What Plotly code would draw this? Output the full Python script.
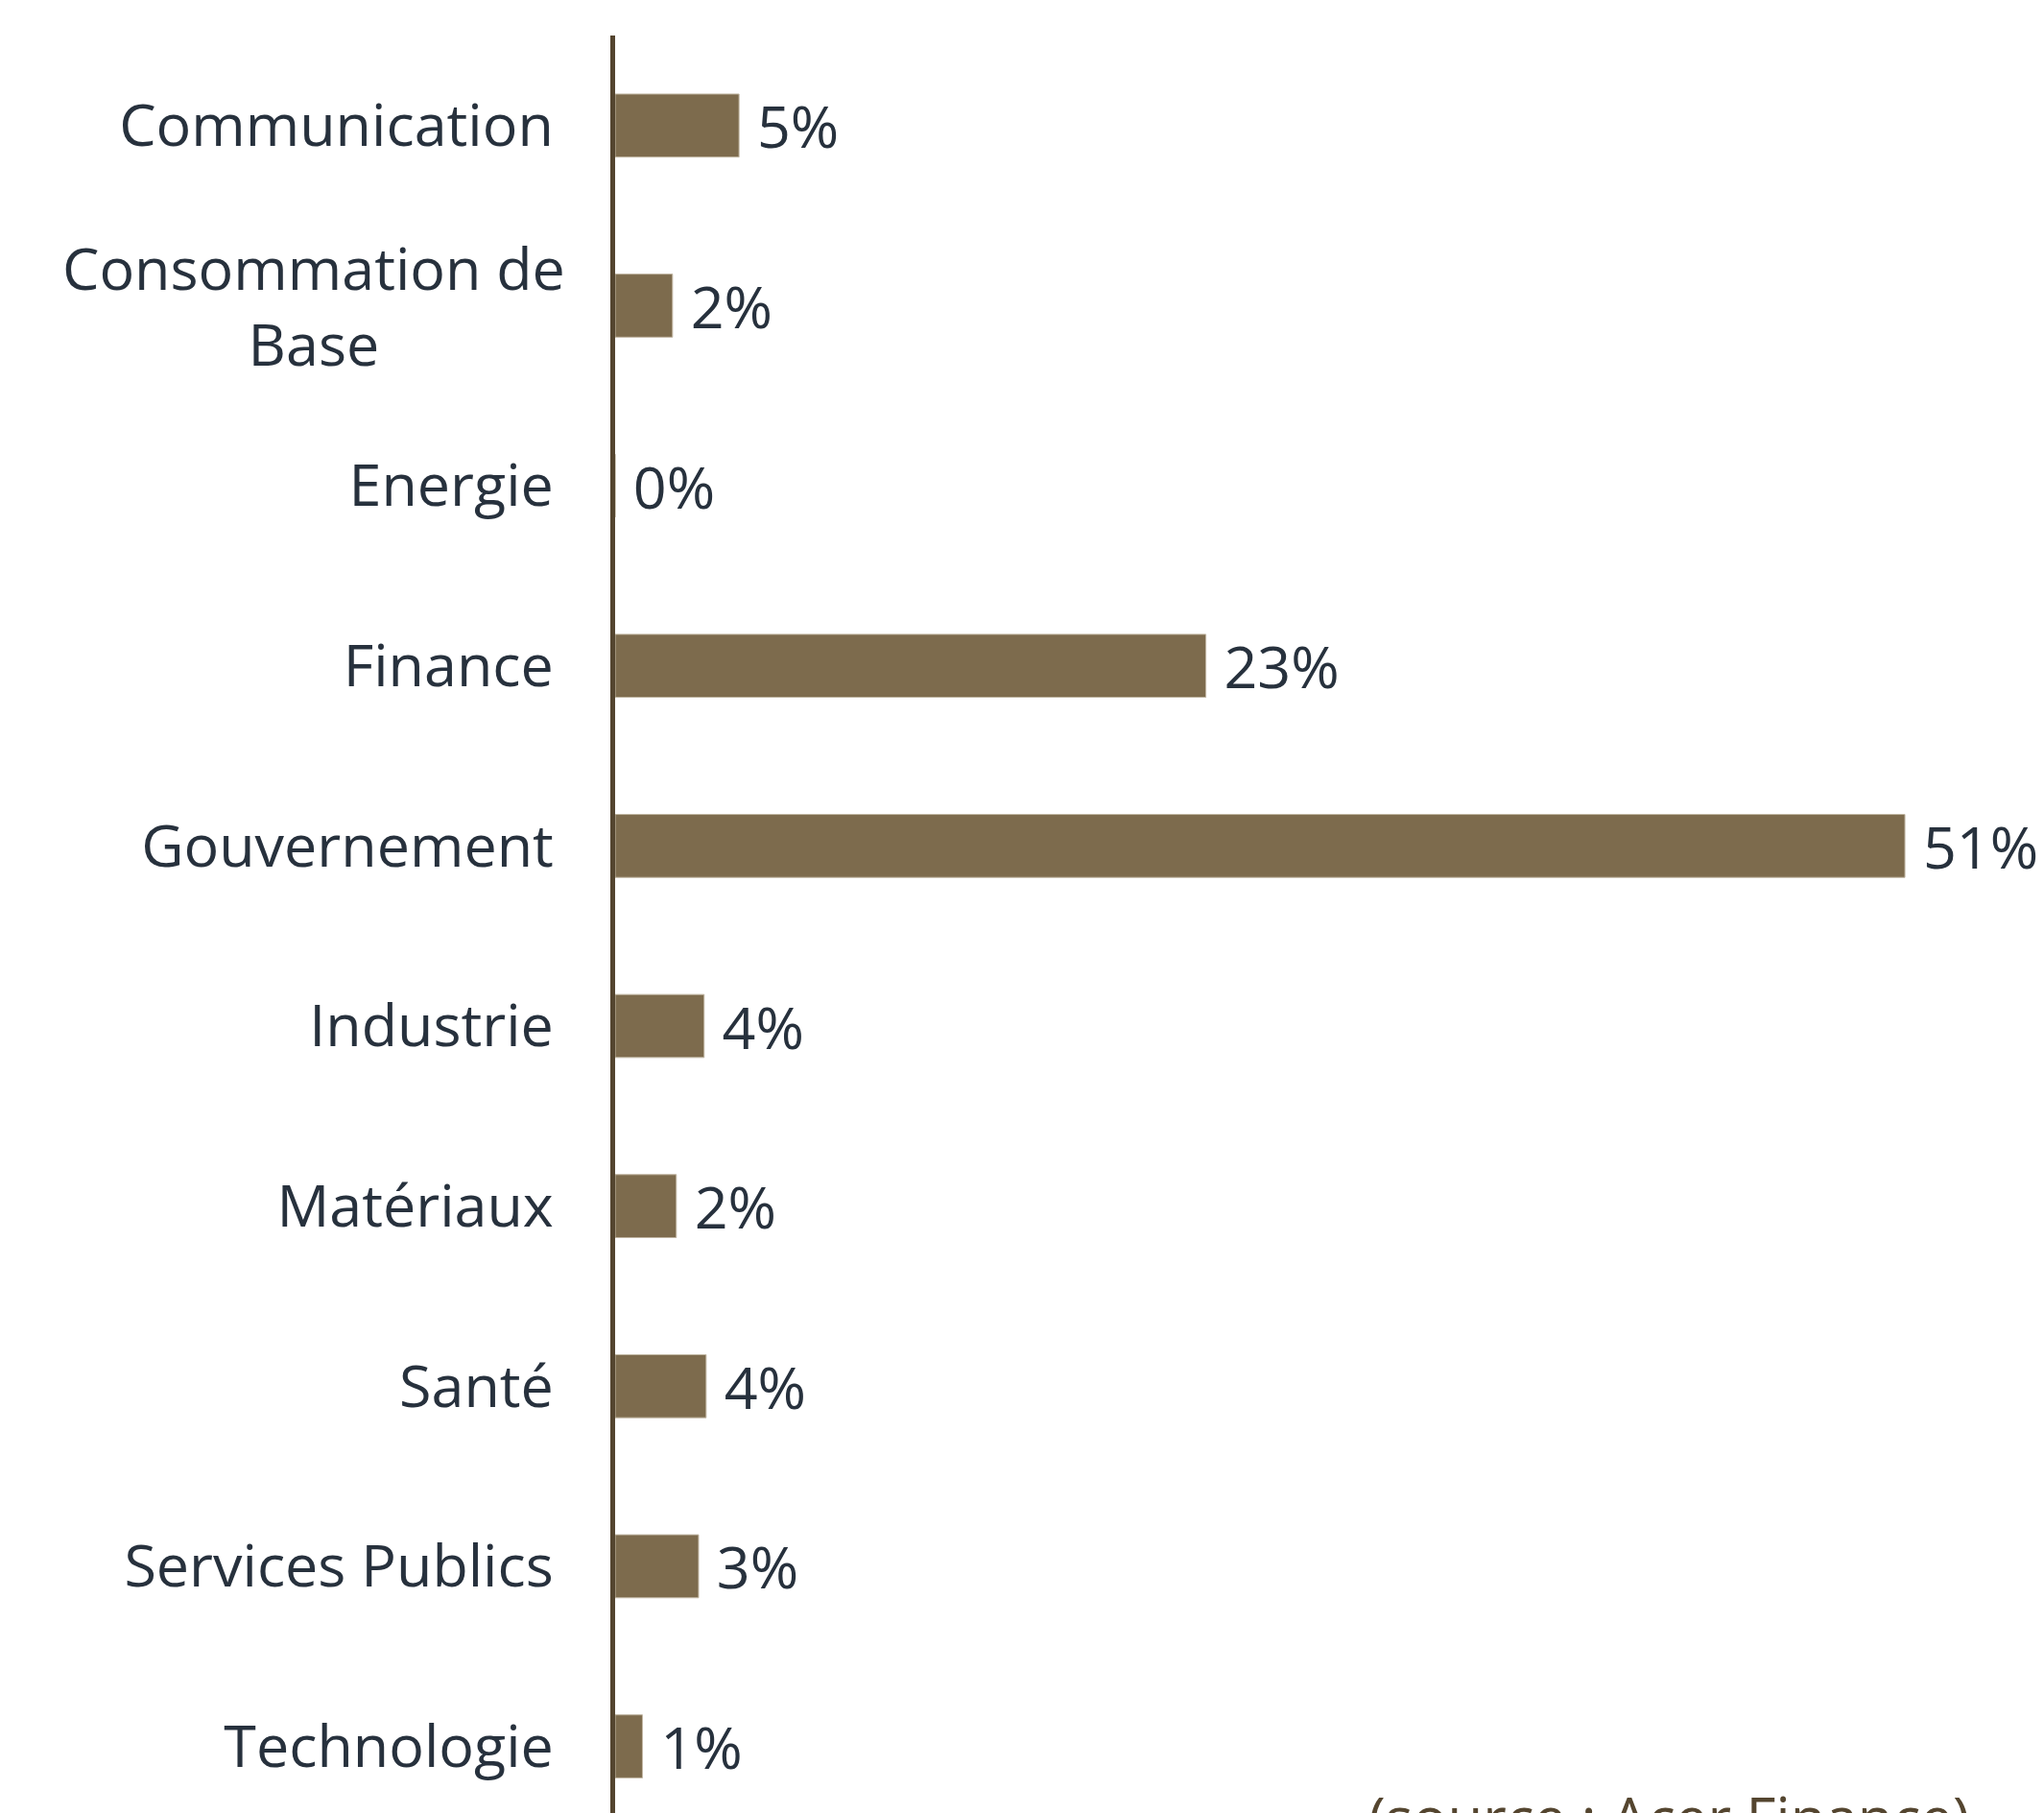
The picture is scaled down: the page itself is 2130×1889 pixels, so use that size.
import plotly.graph_objects as go

categories = ["Communication", "Consommation de Base", "Energie", "Finance",
              "Gouvernement", "Industrie", "Matériaux", "Santé",
              "Services Publics", "Technologie"]
tick_labels = ["Communication", "", "Energie", "Finance",
               "Gouvernement", "Industrie", "Matériaux", "Santé",
               "Services Publics", "Technologie"]
wrapped_label = "Consommation de<br>Base"
values = [4.9, 2.27, 0.0, 23.36, 51.0, 3.52, 2.42, 3.6, 3.3, 1.08]
labels = [" %d%%" % round(v) for v in values]
source_text = "(source : Acer Finance)"

BAR = "#7d6b4d"
AXIS = "#54452f"
TXT = "#27313d"
FONT = "Open Sans"
FS = 61
STANDOFF = 47

fig = go.Figure(go.Bar(
    x=values, y=categories, orientation="h",
    marker=dict(color=BAR, line=dict(color="#c2b7a4", width=1)),
    text=labels, textposition="outside", cliponaxis=False,
    constraintext="none",
    textfont=dict(family=FONT, size=FS, color=TXT),
    width=0.35,
))

fig.update_layout(
    width=2122, height=1881,
    margin=dict(l=633, r=0, t=29, b=0),
    paper_bgcolor="white", plot_bgcolor="white",
    showlegend=False,
    font=dict(family=FONT, size=FS, color=TXT),
    xaxis=dict(range=[0, 56.5], visible=False, showgrid=False, zeroline=False),
    yaxis=dict(range=[9.37, -0.5], showline=True, linecolor=AXIS, linewidth=5,
               showgrid=False, zeroline=False, ticks="", ticklabelstandoff=STANDOFF,
               tickmode="array", tickvals=categories, ticktext=tick_labels,
               tickfont=dict(family=FONT, size=FS, color=TXT)),
    annotations=[
        dict(text=wrapped_label, xref="paper", yref="y", x=0, y=categories[1],
             xanchor="right", yanchor="middle", align="center", xshift=-STANDOFF - 3,
             showarrow=False, font=dict(family=FONT, size=FS, color=TXT)),
        dict(text=source_text, xref="paper", yref="paper",
             x=0.526, y=0.021, xanchor="left", yanchor="top",
             showarrow=False, font=dict(family=FONT, size=60, color=AXIS)),
    ],
)

fig.write_html("out.html")
